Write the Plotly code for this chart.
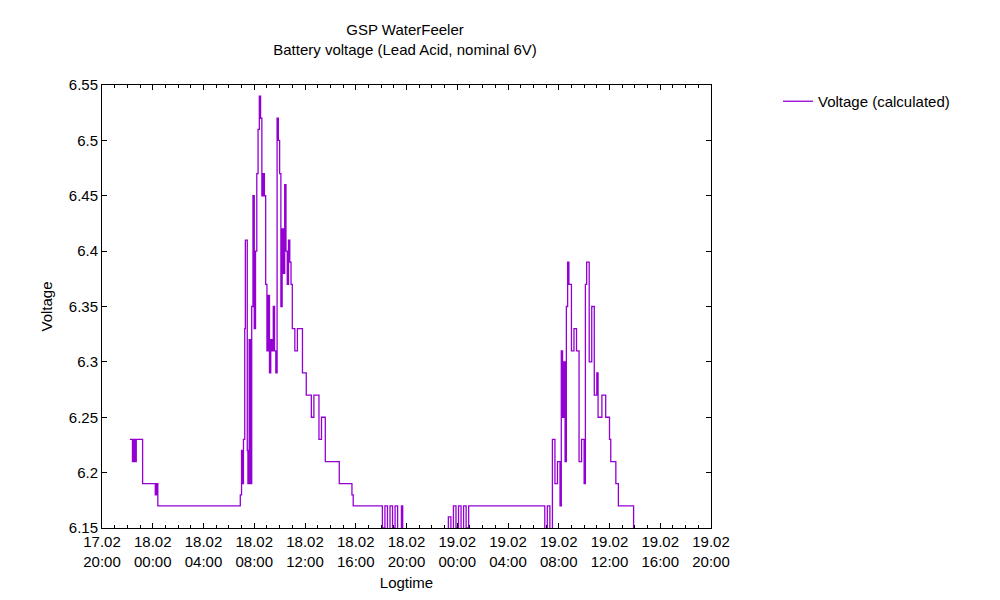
import pandas as pd
import plotly.graph_objects as go

# hours since 17.02 20:00, voltage (step data)
hours = [2.2, 2.4, 2.5, 2.6, 2.7, 3.2, 4.2, 4.3, 4.4, 4.5, 10.9, 11.0, 11.05, 11.15, 11.25, 11.3,
         11.45, 11.5, 11.6, 11.7, 11.8, 11.9, 12.0, 12.1, 12.2, 12.3, 12.4, 12.5, 12.6, 12.7,
         12.8, 12.9, 13.0, 13.1, 13.2, 13.3, 13.4, 13.5, 13.6, 13.7, 13.8, 13.9, 14.0, 14.1,
         14.2, 14.3, 14.4, 14.5, 14.6, 14.7, 14.8, 14.9, 15.0, 15.2, 15.4, 15.8, 16.1, 16.5,
         16.7, 17.1, 17.3, 17.6, 18.0, 18.7, 19.7, 19.8, 22.1, 22.3, 22.5, 22.7, 22.9, 23.1,
         23.3, 23.6, 23.7, 27.3, 27.5, 27.7, 27.9, 28.1, 28.3, 28.5, 28.7, 28.9, 29.0, 34.9,
         35.1, 35.3, 35.5, 35.7, 35.9, 36.1, 36.2, 36.3, 36.4, 36.5, 36.6, 36.7, 36.8, 37.0,
         37.2, 37.4, 37.6, 37.8, 38.0, 38.1, 38.2, 38.4, 38.6, 38.8, 39.0, 39.1, 39.4, 39.7,
         40.0, 40.1, 40.5, 40.7, 41.8, 41.9]
volts = [6.23, 6.21, 6.23, 6.21, 6.23, 6.19, 6.18, 6.19, 6.17, 6.17, 6.18, 6.22, 6.19, 6.23, 6.33, 6.41,
         6.22, 6.19, 6.32, 6.19, 6.35, 6.45, 6.33, 6.40, 6.47, 6.51, 6.54, 6.52, 6.45, 6.47,
         6.45, 6.37, 6.31, 6.36, 6.29, 6.32, 6.31, 6.35, 6.31, 6.29, 6.52, 6.50, 6.47, 6.35,
         6.42, 6.38, 6.46, 6.40, 6.37, 6.41, 6.39, 6.37, 6.33, 6.31, 6.33, 6.29, 6.27, 6.25,
         6.27, 6.23, 6.25, 6.21, 6.21, 6.19, 6.18, 6.17, 6.15, 6.17, 6.14, 6.17, 6.15, 6.17,
         6.14, 6.17, 6.14, 6.16, 6.14, 6.17, 6.15, 6.17, 6.14, 6.17, 6.15, 6.17, 6.17, 6.14,
         6.17, 6.14, 6.23, 6.19, 6.21, 6.17, 6.31, 6.25, 6.30, 6.21, 6.35, 6.39, 6.37, 6.31,
         6.33, 6.31, 6.21, 6.23, 6.19, 6.37, 6.39, 6.30, 6.35, 6.27, 6.29, 6.25, 6.27, 6.25,
         6.23, 6.21, 6.19, 6.17, 6.17, 6.14]

start = pd.Timestamp("2023-02-17 20:00")
times = [start + pd.Timedelta(hours=h) for h in hours]

fig = go.Figure()
fig.add_trace(go.Scatter(x=times, y=volts, mode="lines", line_shape="hv",
                         line=dict(color="#9400d3", width=1.3), name="Voltage (calculated)"))

ax = dict(showline=True, mirror="ticks", linecolor="black", linewidth=1, showgrid=False,
          ticks="inside", tickcolor="black", zeroline=False, automargin=False,
          title_font=dict(size=15))
fig.update_xaxes(**ax, range=[start, start + pd.Timedelta(hours=48)], dtick=4 * 3600 * 1000,
                 tickformat="%d.%m<br>%H:%M", title_text="Logtime", title_standoff=8,
                 minor=dict(ticks="inside", dtick=3600 * 1000, ticklen=3, tickcolor="black"))
fig.update_yaxes(**ax, range=[6.15, 6.55], dtick=0.05, title_text="Voltage", title_standoff=12)
fig.update_layout(
    title=dict(text="GSP WaterFeeler<br>Battery voltage (Lead Acid, nominal 6V)", x=0.397, y=0.955,
               font=dict(size=15)),
    width=1000, height=600, plot_bgcolor="white", paper_bgcolor="white",
    font=dict(family="Liberation Sans, Arial", size=15, color="black"),
    margin=dict(l=94, r=297, t=77, b=80),
    showlegend=True,
    legend=dict(x=1.11, y=1.0, xanchor="left", yanchor="top", bgcolor="rgba(0,0,0,0)"),
)
fig.write_html("out.html")
